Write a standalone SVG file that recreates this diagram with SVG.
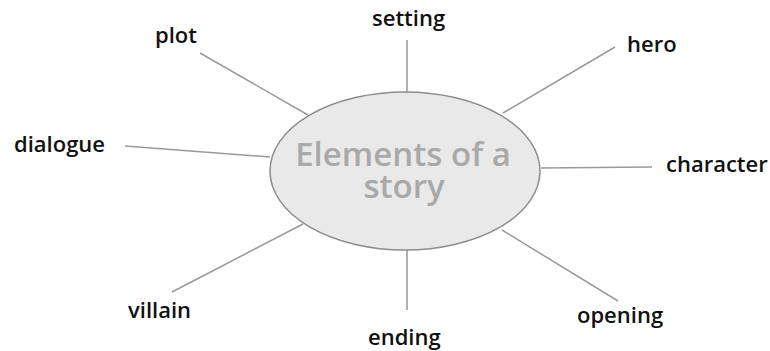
<svg xmlns="http://www.w3.org/2000/svg" width="770" height="351" viewBox="0 0 770 351">
<style>
.lbl{font-family:"Open Sans","DejaVu Sans",sans-serif;font-size:22px;fill:#111;font-weight:600}
.ctr{font-family:"Open Sans","DejaVu Sans",sans-serif;font-size:33px;fill:#a9a9a9;font-weight:600;text-anchor:middle}
.conn line{stroke:#999;stroke-width:1.5;fill:none}
</style>
<rect width="770" height="351" fill="#fff"/>
<g id="connectors" class="conn">
<line x1="407" y1="40" x2="407" y2="92"/>
<line x1="503" y1="113" x2="615" y2="47"/>
<line x1="541" y1="168" x2="652" y2="167"/>
<line x1="502" y1="230" x2="618" y2="301"/>
<line x1="407" y1="250" x2="407" y2="310"/>
<line x1="303" y1="224" x2="172" y2="292"/>
<line x1="270" y1="157" x2="125" y2="146"/>
<line x1="308" y1="115" x2="200" y2="53"/>
</g>
<g id="center">
<ellipse cx="405" cy="171" rx="135" ry="79" fill="#e9e9e9" stroke="#8c8c8c" stroke-width="1.5"/>
<text class="ctr"><tspan x="403" y="166">Elements of a</tspan><tspan x="404" y="198">story</tspan></text>
</g>
<g id="setting"><text class="lbl" x="372" y="26">setting</text></g>
<g id="hero"><text class="lbl" x="627" y="52">hero</text></g>
<g id="character"><text class="lbl" x="666" y="172">character</text></g>
<g id="opening"><text class="lbl" x="577" y="323">opening</text></g>
<g id="ending"><text class="lbl" x="368" y="345">ending</text></g>
<g id="villain"><text class="lbl" x="128" y="318">villain</text></g>
<g id="dialogue"><text class="lbl" x="14" y="152">dialogue</text></g>
<g id="plot"><text class="lbl" x="155" y="43">plot</text></g>
</svg>
